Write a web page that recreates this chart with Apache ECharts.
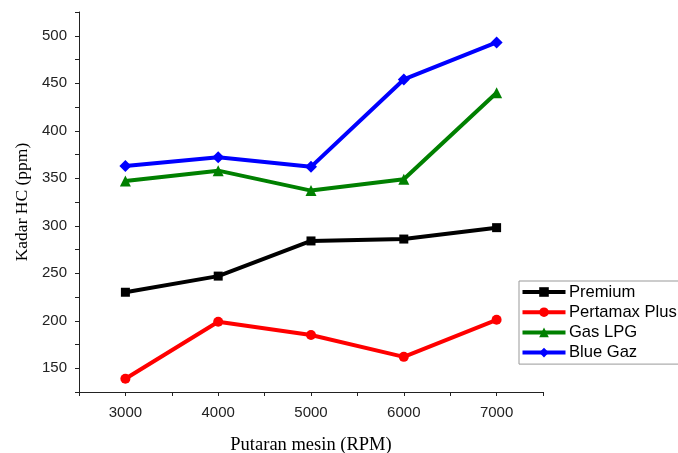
<!DOCTYPE html>
<html><head><meta charset="utf-8">
<script src="https://cdn.jsdelivr.net/npm/echarts@6/dist/echarts.min.js"></script>
<style>html,body{margin:0;padding:0;background:#fff}#c{width:678px;height:453px}</style>
</head><body><div id="c"></div>
<script>
var rpm = [3000, 4000, 5000, 6000, 7000];
var premium = [230, 247, 284, 286, 298];
var pertamaxPlus = [139, 199, 185, 162, 201];
var gasLPG = [347, 358, 337, 349, 440];
var blueGaz = [363, 372, 362, 454, 493];
var seriesNames = ['Premium', 'Pertamax Plus', 'Gas LPG', 'Blue Gaz'];
var seriesColors = ['#000000', '#ff0000', '#008000', '#0000ff'];
var seriesSymbols = ['rect', 'circle', 'triangle', 'diamond'];
var allValues = [premium, pertamaxPlus, gasLPG, blueGaz];

function pairs(vals){ return rpm.map(function(x,i){ return [x, vals[i]]; }); }

var chart = echarts.init(document.getElementById('c'));
chart.setOption({
  animation: false,
  backgroundColor: '#fff',
  grid: { left: 79, right: 135, top: 12, bottom: 61, outerBoundsMode: 'none', containLabel: false },
  legend: {
    orient: 'vertical', left: 519, top: 281,
    data: seriesNames,
    itemWidth: 43, itemHeight: 12, itemGap: 3.2,
    padding: [2.5, 2, 3, 1.5],
    borderColor: '#999', borderWidth: 1,
    lineStyle: { width: 4 },
    textStyle: { fontFamily: 'Liberation Sans, Arial, sans-serif', fontSize: 16.6, lineHeight: 17, color: '#000', padding: [0,0,0,-1.6] }
  },
  xAxis: {
    type: 'value', min: 2500, max: 7500, interval: 500,
    name: 'Putaran mesin (RPM)', nameLocation: 'middle', nameGap: 44,
    nameTextStyle: { fontFamily: 'Liberation Serif, Times New Roman, serif', fontSize: 18.5, color: '#000' },
    axisLine: { lineStyle: { color: '#222', width: 1 } },
    axisTick: { show: true, inside: false, length: 4, lineStyle: { color: '#222' } },
    axisLabel: { margin: 13, fontFamily: 'Liberation Sans, Arial, sans-serif', fontSize: 15, color: '#222',
      formatter: function(v){ return (v % 1000 === 0 && v >= 3000 && v <= 7000) ? String(v) : ''; } },
    splitLine: { show: false }
  },
  yAxis: {
    type: 'value', min: 125, max: 525, interval: 25,
    name: 'Kadar HC (ppm)', nameLocation: 'middle', nameGap: 47,
    nameTextStyle: { fontFamily: 'Liberation Serif, Times New Roman, serif', fontSize: 17.5, color: '#000' },
    axisLine: { show: true, lineStyle: { color: '#222', width: 1 } },
    axisTick: { show: true, inside: false, length: 4, lineStyle: { color: '#222' } },
    axisLabel: { margin: 12, fontFamily: 'Liberation Sans, Arial, sans-serif', fontSize: 15, color: '#222',
      formatter: function(v){ return (v % 50 === 0 && v >= 150 && v <= 500) ? String(v) : ''; } },
    splitLine: { show: false }
  },
  series: seriesNames.map(function(n, i){
    return {
      name: n, type: 'line', data: pairs(allValues[i]),
      symbol: seriesSymbols[i], symbolSize: [9, 10, 11, 12][i],
      lineStyle: { color: seriesColors[i], width: 4 },
      itemStyle: { color: seriesColors[i] },
      z: 2 + (3 - i)
    };
  })
});
</script></body></html>
